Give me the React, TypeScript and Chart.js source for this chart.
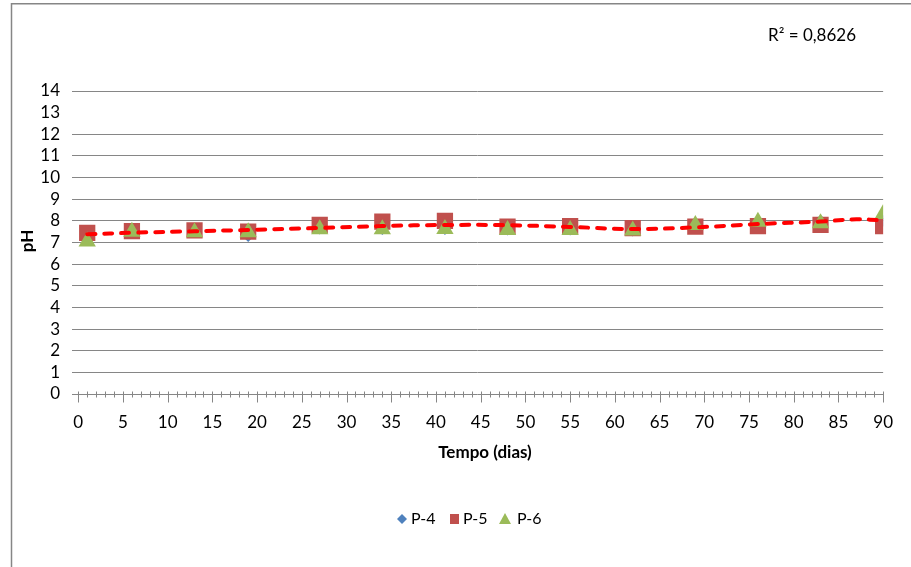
import React, { useEffect, useRef } from "react";
import { Chart, registerables } from "chart.js";

Chart.register(...registerables);

const days = [1, 6, 13, 19, 27, 34, 41, 48, 55, 62, 69, 76, 83, 90];
const p4 = [7.3, 7.6, 7.5, 7.3, 7.65, 7.62, 7.62, 7.6, 7.6, 7.55, 7.8, 7.95, 8.0, 8.0];
const p5 = [7.45, 7.53, 7.56, 7.5, 7.81, 7.96, 8.0, 7.73, 7.76, 7.66, 7.73, 7.76, 7.81, 7.76];
const p6 = [7.05, 7.5, 7.47, 7.47, 7.61, 7.61, 7.62, 7.58, 7.58, 7.55, 7.81, 7.96, 7.89, 8.32];
const trendDays = [1, 6, 13, 19, 27, 34, 41, 48, 55, 62, 69, 76, 83, 87, 90];
const trendPH = [7.38, 7.45, 7.52, 7.58, 7.67, 7.76, 7.81, 7.8, 7.72, 7.62, 7.7, 7.85, 7.97, 8.07, 8.02];
const xTicks = [0, 5, 10, 15, 20, 25, 30, 35, 40, 45, 50, 55, 60, 65, 70, 75, 80, 85, 90];
const yHiddenGrid = [13];
const legendNames = ["P-4", "P-5", "P-6"];
const r2Text = "R² = 0,8626";
const xTitle = "Tempo (dias)";
const yTitle = "pH";

const FONT = "Lato";
const GRID = "#868686";
const BLUE = "#4F81BD";
const RED = "#C0504D";
const GREEN = "#9BBB59";

const pts = (xs: number[], ys: number[]) => xs.map((x, i) => ({ x, y: ys[i] }));
const hidden = (c: any) => {
  const v = c && c.tick ? c.tick.value : undefined;
  return typeof v === "number" && yHiddenGrid.some((h) => Math.abs(h - v) < 0.01);
};

const decor = {
  id: "decor",
  beforeDraw(chart: any) {
    const ctx = chart.ctx;
    ctx.save();
    ctx.fillStyle = "#ffffff";
    ctx.fillRect(0, 0, chart.width, chart.height);
    ctx.strokeStyle = GRID;
    ctx.lineWidth = 1.5;
    ctx.beginPath();
    ctx.moveTo(11.5, chart.height);
    ctx.lineTo(11.5, 3.75);
    ctx.lineTo(chart.width, 3.75);
    ctx.stroke();
    ctx.restore();
  },
  afterDraw(chart: any) {
    const ctx = chart.ctx;
    const xs = chart.scales.x;
    const ys = chart.scales.y;
    const y0 = Math.round(ys.getPixelForValue(0)) + 0.5;
    ctx.save();
    ctx.strokeStyle = GRID;
    ctx.lineWidth = 1;
    for (let d = 0; d <= 90; d++) {
      const px = Math.round(xs.getPixelForValue(d)) + 0.5;
      const major = d % 5 === 0;
      ctx.beginPath();
      ctx.moveTo(px, y0 - 3);
      ctx.lineTo(px, y0 + (major ? 8 : 3));
      ctx.stroke();
    }
    ctx.fillStyle = "#000";
    ctx.font = `bold 17px ${FONT}`;
    ctx.textAlign = "center";
    ctx.textBaseline = "middle";
    ctx.fillText(xTitle, 485, 453);
    ctx.save();
    ctx.translate(28, 241);
    ctx.rotate(-Math.PI / 2);
    ctx.fillText(yTitle, 0, 0);
    ctx.restore();
    ctx.font = `17px ${FONT}`;
    ctx.textAlign = "left";
    ctx.fillText(r2Text, 768, 36);
    const ly = 519;
    ctx.font = `16px ${FONT}`;
    ctx.fillStyle = BLUE;
    ctx.beginPath();
    ctx.moveTo(402, ly - 5);
    ctx.lineTo(407, ly);
    ctx.lineTo(402, ly + 5);
    ctx.lineTo(397, ly);
    ctx.closePath();
    ctx.fill();
    ctx.fillStyle = "#000";
    ctx.fillText(legendNames[0], 411, ly);
    ctx.fillStyle = RED;
    ctx.fillRect(450, ly - 5, 9, 10);
    ctx.fillStyle = "#000";
    ctx.fillText(legendNames[1], 463, ly);
    ctx.fillStyle = GREEN;
    ctx.beginPath();
    ctx.moveTo(505, ly - 6);
    ctx.lineTo(511, ly + 5);
    ctx.lineTo(499, ly + 5);
    ctx.closePath();
    ctx.fill();
    ctx.fillStyle = "#000";
    ctx.fillText(legendNames[2], 517, ly);
    ctx.restore();
  },
};

export default function App() {
  const ref = useRef<HTMLCanvasElement | null>(null);
  useEffect(() => {
    if (!ref.current) return;
    const chart = new Chart(ref.current, {
      type: "scatter",
      data: {
        datasets: [
          {
            label: legendNames[0],
            data: pts(days, p4),
            pointStyle: "rectRot",
            pointRadius: 6,
            backgroundColor: BLUE,
            borderColor: BLUE,
            borderWidth: 0,
            showLine: false,
            order: 3,
          },
          {
            label: legendNames[1],
            data: pts(days, p5),
            pointStyle: "rect",
            pointRadius: 11.5,
            backgroundColor: RED,
            borderColor: RED,
            borderWidth: 0,
            showLine: false,
            order: 2,
          },
          {
            label: legendNames[2],
            data: pts(days, p6),
            pointStyle: "triangle",
            pointRadius: 10,
            backgroundColor: GREEN,
            borderColor: GREEN,
            borderWidth: 0,
            showLine: false,
            order: 1,
          },
          {
            type: "line",
            label: "trend",
            data: pts(trendDays, trendPH),
            borderColor: "#FF0000",
            borderWidth: 4,
            borderDash: [8, 9],
            borderCapStyle: "round",
            pointRadius: 0,
            tension: 0.4,
            fill: false,
            showLine: true,
            order: 0,
          } as any,
        ],
      },
      options: {
        animation: false,
        responsive: false,
        devicePixelRatio: 1,
        layout: { padding: { left: 0, top: 91, right: 19, bottom: 113 } },
        plugins: { legend: { display: false }, tooltip: { enabled: false } },
        scales: {
          x: {
            type: "linear",
            min: -0.7,
            max: 90,
            afterFit: (s: any) => {
              s.height = 60;
            },
            afterBuildTicks: (s: any) => {
              s.ticks = xTicks.map((v) => ({ value: v }));
            },
            grid: { display: false, drawTicks: false },
            border: { display: false },
            ticks: {
              font: { family: FONT, size: 17 },
              color: "#000",
              padding: 18,
              maxRotation: 0,
              autoSkip: false,
            },
          },
          y: {
            min: 0,
            max: 14,
            afterFit: (s: any) => {
              s.width = 72;
            },
            grid: {
              color: (c: any) => (hidden(c) ? "rgba(255,255,255,0)" : GRID),
              lineWidth: (c: any) => (hidden(c) ? 0 : 1),
              drawTicks: false,
            },
            border: { display: false },
            ticks: {
              stepSize: 1,
              autoSkip: false,
              font: { family: FONT, size: 17 },
              color: "#000",
              padding: 12,
            },
          },
        },
      },
      plugins: [decor],
    } as any);
    return () => chart.destroy();
  }, []);
  return (
    <div style={{ position: "fixed", left: 0, top: 0, width: 911, height: 567 }}>
      <canvas ref={ref} width={911} height={567} />
    </div>
  );
}
